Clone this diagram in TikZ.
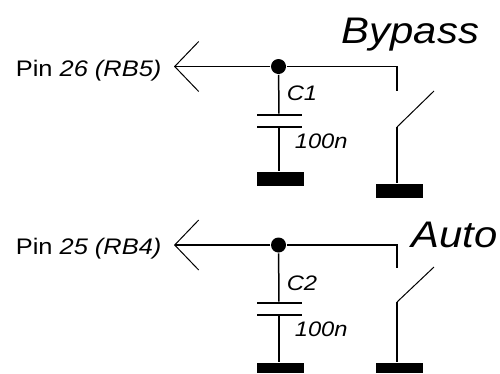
\documentclass[tikz,border=0pt]{standalone}
\usepackage{fontspec}
\setmainfont{Liberation Sans}
\usetikzlibrary{arrows.meta}
\tikzset{
  dot/.style={circle,fill=black,inner sep=0pt,minimum size=15pt},
  plate/.style={fill=black,inner sep=0pt,minimum width=45pt,minimum height=1.3pt},
  gnd/.style={fill=black,inner sep=0pt,minimum width=47pt,minimum height=14pt},
  gndcut/.style={fill=black,inner sep=0pt,minimum width=47pt,minimum height=10pt},
  lbl/.style={inner sep=0pt,anchor=base west,xscale=1.13,transform shape,font=\fontsize{21}{21}\selectfont\itshape},
  title/.style={inner sep=0pt,anchor=base west,xscale=1.13,transform shape,font=\fontsize{37}{37}\selectfont\itshape},
  pinlbl/.style={inner sep=0pt,anchor=base west,xscale=1.13,transform shape,font=\fontsize{22.5}{22.5}\selectfont}
}
\begin{document}
\begin{tikzpicture}[x=1pt,y=-1pt,line width=1.5pt,>={Straight Barb[length=24pt,width=50pt,line width=1pt]}]
\useasboundingbox (0,0) rectangle (500,373);

\node[pinlbl] (pin1) at (15,76) {Pin \textit{26 (RB5)}};
\node[pinlbl] (pin2) at (15,254) {Pin \textit{25 (RB4)}};
\node[title] (bypass) at (341,43) {Bypass};
\node[title] (auto) at (411,247) {Auto};

% top row
\coordinate (tip1) at (174,66.5);
\coordinate (sw1top) at (397,91);
\coordinate (sw1end) at (434,91);
\coordinate (sw1pivot) at (397,127);
\node[dot] (j1) at (278.5,66.5) {};
\node[plate] (c1top) at (279,115) {};
\node[plate] (c1bot) at (279,127) {};
\node[gnd] (gnda1) at (280.5,179) {};
\node[gnd] (gndb1) at (399,191) {};
\node[lbl] (c1name) at (286,100) {C1};
\node[lbl] (c1val) at (294,148) {100n};

\draw[->] (j1) -- (tip1);
\draw (j1) -| (sw1top);
\draw (j1) -- (c1top);
\draw (c1bot) -- (c1bot|-gnda1.north);
\draw[line width=1pt] (sw1pivot) -- (sw1end);
\draw (sw1pivot) -- (sw1pivot|-gndb1.north);

% bottom row
\coordinate (tip2) at (174,245);
\coordinate (sw2top) at (397,268);
\coordinate (sw2end) at (434,267);
\coordinate (sw2pivot) at (397,302);
\node[dot] (j2) at (278.5,245) {};
\node[plate] (c2top) at (279,303) {};
\node[plate] (c2bot) at (279,315) {};
\node[gndcut] (gnda2) at (280.5,368) {};
\node[gndcut] (gndb2) at (399,368) {};
\node[lbl] (c2name) at (286,290.5) {C2};
\node[lbl] (c2val) at (294,336.5) {100n};

\draw[->] (j2) -- (tip2);
\draw (j2) -| (sw2top);
\draw (j2) -- (c2top);
\draw (c2bot) -- (c2bot|-gnda2.north);
\draw[line width=1pt] (sw2pivot) -- (sw2end);
\draw (sw2pivot) -- (sw2pivot|-gndb2.north);

\end{tikzpicture}
\end{document}
